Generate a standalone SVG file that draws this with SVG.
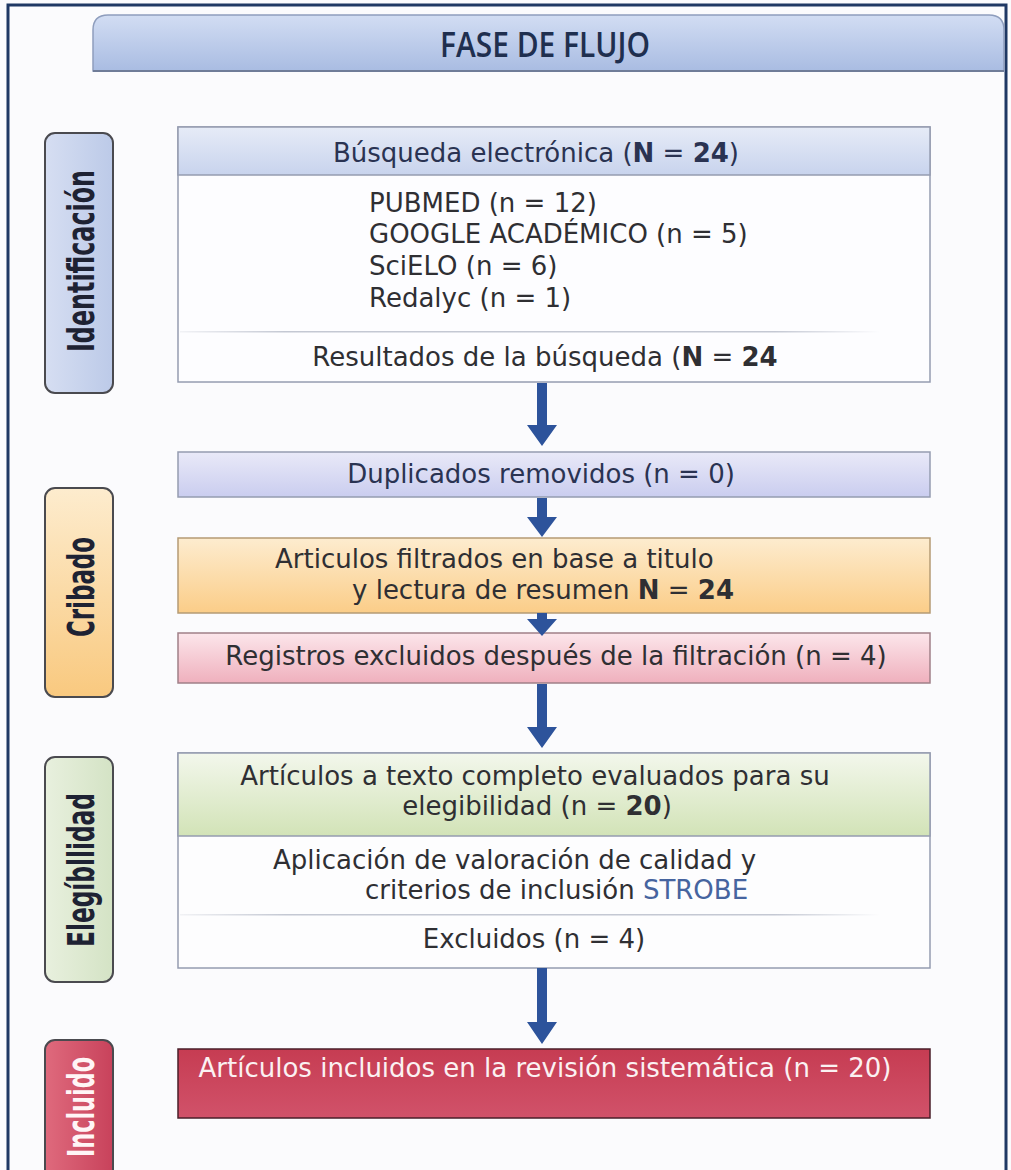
<svg xmlns="http://www.w3.org/2000/svg" width="1011" height="1170" viewBox="0 0 1011 1170">
<defs>
<style>
.t{font-family:"DejaVu Sans","Liberation Sans",sans-serif;font-size:26px;fill:#2f2f33}
.h{fill:#2a3352}
.b{font-weight:bold}
.lbl{font-family:"Liberation Sans Narrow","DejaVu Sans Condensed","Liberation Sans",sans-serif;font-weight:bold;font-size:38px;fill:#1e2233}
.box{stroke:#959cb0;stroke-width:1.5}
.pill{stroke:#4a4a4f;stroke-width:2}
.arrow{fill:#2d539b}
</style>
<linearGradient id="gBanner" x1="0" y1="0" x2="0" y2="1"><stop offset="0" stop-color="#d2ddf3"/><stop offset="1" stop-color="#a9bce2"/></linearGradient>
<linearGradient id="gHead" x1="0" y1="0" x2="0" y2="1"><stop offset="0" stop-color="#e6ebf7"/><stop offset="1" stop-color="#c8d3ed"/></linearGradient>
<linearGradient id="gDup" x1="0" y1="0" x2="0" y2="1"><stop offset="0" stop-color="#e9e9f8"/><stop offset="1" stop-color="#cacdef"/></linearGradient>
<linearGradient id="gOrange" x1="0" y1="0" x2="0" y2="1"><stop offset="0" stop-color="#fdeccf"/><stop offset="1" stop-color="#fbcd88"/></linearGradient>
<linearGradient id="gPink" x1="0" y1="0" x2="0" y2="1"><stop offset="0" stop-color="#fce6eb"/><stop offset="1" stop-color="#efb0bd"/></linearGradient>
<linearGradient id="gGreen" x1="0" y1="0" x2="0" y2="1"><stop offset="0" stop-color="#f3f7ec"/><stop offset="1" stop-color="#d2e3b7"/></linearGradient>
<linearGradient id="gRed" x1="0" y1="0" x2="0" y2="1"><stop offset="0" stop-color="#c63c52"/><stop offset="1" stop-color="#d1526a"/></linearGradient>
<linearGradient id="pBlue" x1="0" y1="0" x2="1" y2="0"><stop offset="0" stop-color="#d6def2"/><stop offset="1" stop-color="#bccae8"/></linearGradient>
<linearGradient id="pOrange" x1="0" y1="0" x2="0" y2="1"><stop offset="0" stop-color="#fdecce"/><stop offset="1" stop-color="#f9c97f"/></linearGradient>
<linearGradient id="pGreen" x1="0" y1="0" x2="1" y2="0"><stop offset="0" stop-color="#e8f0de"/><stop offset="1" stop-color="#d4e3c5"/></linearGradient>
<linearGradient id="pRed" x1="0" y1="0" x2="1" y2="0"><stop offset="0" stop-color="#df6a7d"/><stop offset="1" stop-color="#c8425b"/></linearGradient>
<linearGradient id="sep" x1="0" y1="0" x2="1" y2="0"><stop offset="0" stop-color="#c4c8d3" stop-opacity="0.2"/><stop offset="0.15" stop-color="#c4c8d3"/><stop offset="0.85" stop-color="#c4c8d3"/><stop offset="1" stop-color="#c4c8d3" stop-opacity="0"/></linearGradient>
</defs>

<rect x="0" y="0" width="1011" height="1170" fill="#fbfbfd"/>
<rect x="8" y="5" width="998" height="1180" fill="none" stroke="#1f3864" stroke-width="3"/>

<g id="title">
<path d="M93,71 V30 Q93,15 108,15 H989 Q1004,15 1004,30 V71 Z" fill="url(#gBanner)" stroke="#8e9dbd" stroke-width="1.5"/>
<line x1="93" y1="71" x2="1004" y2="71" stroke="#6f7c98" stroke-width="2"/>
<text x="545" y="57" text-anchor="middle" textLength="210" lengthAdjust="spacingAndGlyphs" style="font-family:'Open Sans','DejaVu Sans',sans-serif;font-weight:600;font-size:35px;fill:#1f2f4f">FASE DE FLUJO</text>
</g>

<g id="label-identificacion">
<rect class="pill" x="45" y="133" width="68" height="260" rx="10" fill="url(#pBlue)"/>
<text class="lbl" transform="translate(94,261) rotate(-90)" text-anchor="middle" textLength="182" lengthAdjust="spacingAndGlyphs">Identificación</text>
</g>
<g id="label-cribado">
<rect class="pill" x="45" y="488" width="68" height="209" rx="10" fill="url(#pOrange)"/>
<text class="lbl" transform="translate(94,587) rotate(-90)" text-anchor="middle" textLength="100" lengthAdjust="spacingAndGlyphs">Cribado</text>
</g>
<g id="label-elegibilidad">
<rect class="pill" x="45" y="757" width="68" height="225" rx="10" fill="url(#pGreen)"/>
<text class="lbl" transform="translate(94,870) rotate(-90)" text-anchor="middle" textLength="154" lengthAdjust="spacingAndGlyphs">Elegíbllidad</text>
</g>
<g id="label-incluido">
<rect class="pill" x="45" y="1040" width="68" height="160" rx="10" fill="url(#pRed)"/>
<text class="lbl" transform="translate(94,1107) rotate(-90)" text-anchor="middle" textLength="100" lengthAdjust="spacingAndGlyphs" style="fill:#fff5f6">Incluido</text>
</g>

<g id="box-busqueda">
<rect class="box" x="178" y="127" width="752" height="255" fill="#fdfdff"/>
<rect class="box" x="178" y="127" width="752" height="48" fill="url(#gHead)"/>
<text class="t h" x="536" y="162" text-anchor="middle">Búsqueda electrónica (<tspan class="b">N</tspan> = <tspan class="b">24</tspan>)</text>
<text class="t" x="369" y="212">PUBMED (n = 12)</text>
<text class="t" x="369" y="243">GOOGLE ACADÉMICO (n = 5)</text>
<text class="t" x="369" y="275">SciELO (n = 6)</text>
<text class="t" x="369" y="307">Redalyc (n = 1)</text>
<rect x="180" y="331" width="700" height="1.5" fill="url(#sep)"/>
<text class="t" x="545" y="366" text-anchor="middle">Resultados de la búsqueda (<tspan class="b">N</tspan> = <tspan class="b">24</tspan></text>
</g>

<g id="box-duplicados">
<rect class="box" x="178" y="452" width="752" height="45" fill="url(#gDup)"/>
<text class="t h" x="541" y="483" text-anchor="middle">Duplicados removidos (n = 0)</text>
</g>

<g id="box-filtrados">
<rect class="box" x="178" y="538" width="752" height="75" fill="url(#gOrange)" style="stroke:#b59b74"/>
<text class="t" x="275" y="568">Articulos filtrados en base a titulo</text>
<text class="t" x="352" y="599">y lectura de resumen <tspan class="b">N</tspan> = <tspan class="b">24</tspan></text>
</g>

<g id="box-registros">
<rect class="box" x="178" y="633" width="752" height="50" fill="url(#gPink)" style="stroke:#a08088"/>
<text class="t" x="556" y="665" text-anchor="middle">Registros excluidos después de la filtración (n = 4)</text>
</g>

<g id="box-elegibilidad">
<rect class="box" x="178" y="753" width="752" height="215" fill="#fdfdfe"/>
<rect class="box" x="178" y="753" width="752" height="83" fill="url(#gGreen)"/>
<text class="t" x="535" y="785" text-anchor="middle">Artículos a texto completo evaluados para su</text>
<text class="t" x="537" y="815" text-anchor="middle">elegibilidad (n = <tspan class="b">20</tspan>)</text>
<text class="t" x="273" y="869">Aplicación de valoración de calidad y</text>
<text class="t" x="365" y="899">criterios de inclusión <tspan style="fill:#46649f">STROBE</tspan></text>
<rect x="180" y="914" width="700" height="1.5" fill="url(#sep)"/>
<text class="t" x="534" y="948" text-anchor="middle">Excluidos (n = 4)</text>
</g>

<g id="box-incluidos">
<rect x="178" y="1049" width="752" height="69" fill="url(#gRed)" stroke="#4a1f2a" stroke-width="1.5"/>
<text class="t" x="545" y="1077" text-anchor="middle" style="fill:#fbf1f2">Artículos incluidos en la revisión sistemática (n = 20)</text>
</g>

<g id="connectors">
<path class="arrow" d="M537,383 H547 V425 H557 L542,446 L527,425 H537 Z"/>
<path class="arrow" d="M537,498 H547 V517 H557 L542,537 L527,517 H537 Z"/>
<path class="arrow" d="M537,613 H547 V619 H557 L542,636 L527,619 H537 Z"/>
<path class="arrow" d="M537,684 H547 V727 H557 L542,748 L527,727 H537 Z"/>
<path class="arrow" d="M537,968 H547 V1022 H557 L542,1044 L527,1022 H537 Z"/>
</g>
</svg>
